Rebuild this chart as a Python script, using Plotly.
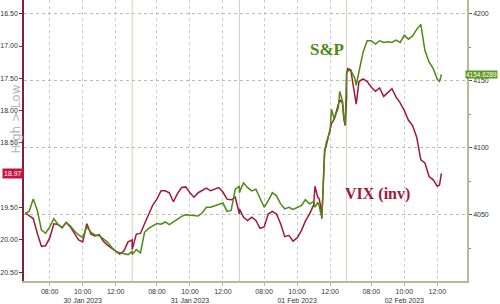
import plotly.graph_objects as go

# ---- data (Pacific-time trading sessions 06:30-13:00) ----
days = ["2023-01-30", "2023-01-31", "2023-02-01", "2023-02-02"]
day_labels = ["30 Jan 2023", "31 Jan 2023", "01 Feb 2023", "02 Feb 2023"]

times_d1 = ["06:30", "06:45", "07:00", "07:15", "07:30", "07:45", "08:00", "08:15", "08:30",
            "08:45", "09:00", "09:15", "09:30", "09:45", "10:00", "10:15", "10:30", "10:45",
            "11:00", "11:15", "11:30", "11:45", "12:00", "12:15", "12:30", "12:45", "13:00"]
vix_d1 = [19.58, 19.63, 19.67, 19.90, 20.10, 20.09, 19.97, 19.75, 19.76, 19.81, 19.73, 19.80,
          19.90, 20.00, 20.03, 19.75, 19.91, 19.94, 19.92, 20.02, 20.08, 20.13, 20.17, 20.22,
          20.17, 20.03, 20.00]
spx_d1 = [4050.9, 4052.6, 4061.8, 4053.3, 4038.7, 4036.3, 4041.1, 4047.2, 4042.8, 4040.4,
          4044.3, 4041.6, 4038.0, 4035.0, 4033.1, 4041.1, 4037.0, 4035.0, 4034.5, 4032.1,
          4029.7, 4025.8, 4022.8, 4021.7, 4020.9, 4020.4, 4022.8]

times_d2 = list(times_d1)
vix_d2 = [20.15, 19.91, 19.90, 19.75, 19.60, 19.46, 19.37, 19.24, 19.24, 19.27, 19.41, 19.28,
          19.19, 19.18, 19.27, 19.34, 19.27, 19.23, 19.20, 19.24, 19.21, 19.19, 19.26, 19.37,
          19.38, 19.34, 19.60]
spx_d2 = [4020.4, 4024.1, 4021.7, 4037.0, 4039.9, 4041.8, 4043.6, 4043.1, 4044.7, 4042.8,
          4044.7, 4047.2, 4048.9, 4050.1, 4049.6, 4049.6, 4049.1, 4051.6, 4055.7, 4055.7,
          4056.9, 4058.2, 4058.9, 4052.6, 4053.3, 4069.1, 4071.5]

times_d3 = ["06:30", "06:45", "07:00", "07:15", "07:30", "07:45", "08:00", "08:15", "08:30",
            "08:45", "09:00", "09:15", "09:30", "09:45", "10:00", "10:15", "10:30", "10:45",
            "11:00", "11:05", "11:15", "11:20", "11:25", "11:30", "11:35", "11:40", "11:45",
            "12:00", "12:05", "12:15", "12:30", "12:35", "12:45", "12:50", "12:55", "13:00"]
vix_d3 = [19.52, 19.65, 19.70, 19.65, 19.70, 19.82, 19.80, 19.60, 19.56, 19.60, 19.75, 19.95,
          19.93, 20.02, 19.97, 19.86, 19.71, 19.60, 19.46, 19.17, 19.34, 19.36, 19.47, 19.67,
          19.17, 18.61, 18.56, 18.27, 18.20, 18.13, 17.93, 17.83, 17.88, 18.13, 18.23, 17.80]
spx_d3 = [4066.6, 4073.9, 4070.3, 4067.9, 4069.1, 4061.8, 4055.7, 4060.6, 4066.6, 4064.2,
          4058.2, 4054.5, 4055.7, 4054.0, 4055.7, 4056.9, 4061.3, 4058.2, 4059.9, 4055.7,
          4059.3, 4056.9, 4052.0, 4048.4, 4071.5, 4095.8, 4103.1, 4112.9, 4128.7, 4121.4,
          4129.9, 4142.1, 4134.8, 4122.6, 4117.7, 4146.9]

times_d4 = ["06:30", "06:35", "06:45", "07:00", "07:05", "07:15", "07:30", "07:45", "08:00",
            "08:15", "08:30", "08:45", "09:00", "09:15", "09:30", "09:45", "10:00", "10:15",
            "10:30", "10:45", "11:00", "11:15", "11:30", "11:45", "12:00", "12:08", "12:15"]
vix_d4 = [17.42, 17.35, 17.37, 17.75, 17.90, 17.55, 17.51, 17.55, 17.64, 17.70, 17.65, 17.78,
          17.72, 17.66, 17.79, 17.88, 18.00, 18.15, 18.23, 18.41, 18.76, 18.81, 19.02, 19.07,
          19.17, 19.15, 18.97]
spx_d4 = [4155.5, 4157.2, 4157.9, 4151.8, 4146.5, 4156.7, 4171.3, 4179.8, 4179.8, 4177.4,
          4179.8, 4178.6, 4179.1, 4178.6, 4180.3, 4178.6, 4183.9, 4181.0, 4183.4, 4188.3,
          4192.0, 4172.5, 4164.0, 4159.1, 4151.1, 4149.5, 4154.6289]

tick_times = ["08:00", "10:00", "12:00"]
vix_ticks = [16.5, 17.0, 17.5, 18.0, 18.5, 19.0, 19.5, 20.0, 20.5]
# the 19.00 label sits under the last-value marker in the original
vix_ticktext = ["16.50", "17.00", "17.50", "18.00", "18.50", "", "19.50", "20.00", "20.50"]
spx_ticks = [4050, 4100, 4150, 4200]

# ---- map clock time to a continuous trading-hours axis (gaps removed) ----
OPEN, SESSION = 6.5, 6.5


def tpos(day_idx, hhmm):
    h, m = hhmm.split(":")
    return day_idx * SESSION + (int(h) + int(m) / 60.0 - OPEN)


all_times = [times_d1, times_d2, times_d3, times_d4]
all_vix = [vix_d1, vix_d2, vix_d3, vix_d4]
all_spx = [spx_d1, spx_d2, spx_d3, spx_d4]

xs, vix, spx = [], [], []
for d, (tt, vv, ss) in enumerate(zip(all_times, all_vix, all_spx)):
    xs += [tpos(d, t) for t in tt]
    vix += vv
    spx += ss

tickvals, ticktext = [], []
for d, lab in enumerate(day_labels):
    for t in tick_times:
        tickvals.append(tpos(d, t))
        ticktext.append(t + ("<br>" + lab if t == "10:00" else ""))

GREEN = "#4e8a12"
RED = "#a3173c"
AXIS = "#b9b995"
FONT = "Liberation Sans"

fig = go.Figure()
fig.add_trace(go.Scatter(x=xs, y=spx, yaxis="y2", mode="lines",
                         line=dict(color=GREEN, width=1.5), showlegend=False))
fig.add_trace(go.Scatter(x=xs, y=vix, yaxis="y", mode="lines",
                         line=dict(color=RED, width=1.5), showlegend=False))

shapes = []
for d in range(1, len(days)):
    shapes.append(dict(type="line", xref="x", yref="paper", x0=d * SESSION, x1=d * SESSION,
                       y0=0, y1=1, line=dict(color="#cfcfc0", width=1), layer="below"))

fig.update_layout(
    width=500, height=304,
    margin=dict(l=21, r=33, t=0, b=17),
    paper_bgcolor="white", plot_bgcolor="white",
    font=dict(family=FONT, size=7, color="#333333"),
    shapes=shapes,
    xaxis=dict(range=[-0.06, 26.8], tickvals=tickvals, ticktext=ticktext,
               showgrid=True, gridcolor="#cccccc", griddash="dot", gridwidth=1,
               showline=True, linecolor=AXIS, linewidth=1.5,
               ticks="outside", ticklen=3, tickcolor=AXIS, zeroline=False,
               tickfont=dict(size=7, color="#333333", family=FONT)),
    yaxis=dict(range=[20.636, 16.288], tickvals=vix_ticks, ticktext=vix_ticktext,
               showgrid=False, zeroline=False, showline=True, linecolor="#7d2434",
               linewidth=1.5, ticks="outside", ticklen=3, tickcolor="#7d2434",
               tickfont=dict(size=7, color="#333333", family=FONT)),
    yaxis2=dict(range=[4000.7, 4210.2], tickvals=spx_ticks, overlaying="y", side="right",
                showgrid=True, gridcolor="#bbbbbb", griddash="dot", gridwidth=1,
                zeroline=False, showline=True, linecolor=AXIS, linewidth=1.5,
                ticks="outside", ticklen=3, tickcolor="#555555",
                minor=dict(dtick=25, tick0=4000, ticks="outside", ticklen=2, tickcolor="#888888",
                           showgrid=False),
                tickfont=dict(size=7, color="#333333", family=FONT)),
)

fig.add_annotation(text="High > Low", xref="paper", yref="paper", x=0, y=1 - 122 / 287,
                   xshift=-17, textangle=-90, showarrow=False,
                   font=dict(size=12, color="#b4b4b4", family="DejaVu Sans"))
fig.add_annotation(text="18.97", xref="paper", yref="y", x=0, y=vix_d4[-1], xanchor="right",
                   showarrow=False, bgcolor="#c8143c", borderpad=1,
                   font=dict(size=7, color="white", family=FONT))
fig.add_annotation(text="4154.6289", xref="paper", yref="y2", x=1, y=spx_d4[-1],
                   xanchor="left", xshift=-2, showarrow=False, bgcolor="#5c9a1c", borderpad=0,
                   font=dict(size=6.5, color="white", family=FONT))
fig.add_annotation(text="<b>S&P</b>", xref="paper", yref="paper",
                   x=(345 - 21) / 446, y=1 - 39 / 287, showarrow=False,
                   font=dict(size=17, color=GREEN, family="Liberation Serif"))
fig.add_annotation(text="<b>VIX (inv)</b>", xref="paper", yref="paper",
                   x=(412 - 21) / 446, y=1 - 209 / 287, showarrow=False,
                   font=dict(size=16, color=RED, family="Liberation Serif"))

fig.write_html("out.html")
